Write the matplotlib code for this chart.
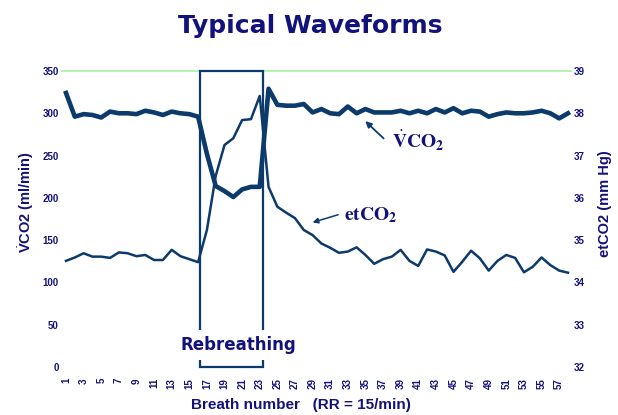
import matplotlib.pyplot as plt
from matplotlib.patches import Rectangle

# breath by breath values
breath = list(range(1, 59))
vco2 = [324, 296, 299, 298, 295, 302, 300, 300, 299, 303, 301, 298, 302, 300, 299, 296,
        252, 214, 208, 201, 210, 213, 213, 329,
        310, 309, 309, 311, 301, 305, 300, 299, 308, 300, 305, 301, 301, 301, 303, 300, 303,
        300, 305, 301, 306, 300, 303, 302, 296, 299, 301, 300, 300, 301, 303, 300, 294, 300]
etco2 = [34.51, 34.59, 34.69, 34.61, 34.61, 34.58, 34.71, 34.69, 34.62, 34.65, 34.53, 34.53,
         34.77, 34.62, 34.55, 34.48,
         35.24, 36.52, 37.25, 37.41, 37.84, 37.86, 38.41, 36.26,
         35.79, 35.65, 35.52, 35.24, 35.12, 34.92, 34.82, 34.70, 34.73, 34.83, 34.65, 34.44,
         34.55, 34.61, 34.77, 34.51, 34.39, 34.78, 34.73, 34.64, 34.25, 34.49, 34.75, 34.57,
         34.28, 34.51, 34.65, 34.58, 34.24, 34.37, 34.59, 34.41, 34.28, 34.23]
left_ticks = [0, 50, 100, 150, 200, 250, 300, 350]
right_ticks = [32, 33, 34, 35, 36, 37, 38, 39]
rebreath_start, rebreath_end = 16.2, 23.4

line_col = '#0b3a6b'
txt_col = '#12127a'
sans = 'Liberation Sans'

# mathtext only used for the dot over V
plt.rcParams['mathtext.bf'] = 'Liberation Sans:bold'
plt.rcParams['mathtext.rm'] = 'Liberation Sans'

fig = plt.figure(figsize=(6.18, 4.15), dpi=100)
ax = fig.add_axes([61.6 / 618, 48 / 415, 509 / 618, 296 / 415])
ax2 = ax.twinx()

ax.plot(breath, vco2, color=line_col, lw=3.3, solid_joinstyle='round', zorder=3)
ax2.plot(breath, etco2, color=line_col, lw=1.8, solid_joinstyle='round', zorder=3)

ax.set_xlim(0.5, 58.3)
ax.set_ylim(0, 350)
ax2.set_ylim(32, 39)
ax.axhline(350, color='#a8f0a8', lw=1.2, zorder=1, clip_on=False)

for a in (ax, ax2):
    for s in a.spines.values():
        s.set_visible(False)
    a.tick_params(length=0, labelsize=7, labelcolor=txt_col)

ax.set_yticks(left_ticks)
ax2.set_yticks(right_ticks)
ax.set_xticks(breath[::2])
ax.set_xticklabels([str(b) for b in breath[::2]], rotation=90, fontweight='bold', family=sans)
for lab in ax.get_yticklabels() + ax2.get_yticklabels():
    lab.set_fontweight('bold')
    lab.set_family(sans)
ax.tick_params(axis='y', pad=2)
ax2.tick_params(axis='y', pad=2)
ax.tick_params(axis='x', pad=8)

# rebreathing box
ax.add_patch(Rectangle((rebreath_start, 0), rebreath_end - rebreath_start, 350, fill=False,
                       ec=line_col, lw=1.6, zorder=4, clip_on=False))
ax.text(20.55, 26, 'Rebreathing', ha='center', va='center', fontsize=12, fontweight='bold',
        color=txt_col, zorder=6,
        bbox=dict(boxstyle='square,pad=0.35', fc='white', ec='none'))

# annotations
ax.annotate('', xy=(34.75, 293), xytext=(37.3, 268),
            arrowprops=dict(arrowstyle='-|>', color=line_col, lw=1.3, mutation_scale=9), zorder=5)
ax.text(41.0, 267, r'$\dot{\mathbf{V}}\mathbf{CO_2}$', ha='center', va='center', fontsize=14,
        color=txt_col, math_fontfamily='stix', zorder=5)
ax.annotate('', xy=(28.7, 170), xytext=(32.2, 181),
            arrowprops=dict(arrowstyle='-|>', color=line_col, lw=1.1, mutation_scale=8), zorder=5)
ax.text(35.6, 180, r'$\mathbf{etCO_2}$', ha='center', va='center', fontsize=14,
        color=txt_col, math_fontfamily='stix', zorder=5)

fig.text(310 / 618, 1 - 26 / 415, 'Typical Waveforms', ha='center', va='center', fontsize=18,
         fontweight='bold', color=txt_col)
fig.text(26 / 618, 1 - 202 / 415, r'$\dot{\mathbf{V}}$CO2 (ml/min)', rotation=90, ha='center',
         va='center', fontsize=10.5, fontweight='bold', color=txt_col, family=sans,
         math_fontfamily='custom')
fig.text(605 / 618, 1 - 204 / 415, 'etCO2 (mm Hg)', rotation=90, ha='center', va='center',
         fontsize=10.5, fontweight='bold', color=txt_col, family=sans)
fig.text(301 / 618, 1 - 405 / 415, 'Breath number   (RR = 15/min)', ha='center', va='center',
         fontsize=11, fontweight='bold', color=txt_col, family=sans)

fig.savefig('out.png', dpi=100)
